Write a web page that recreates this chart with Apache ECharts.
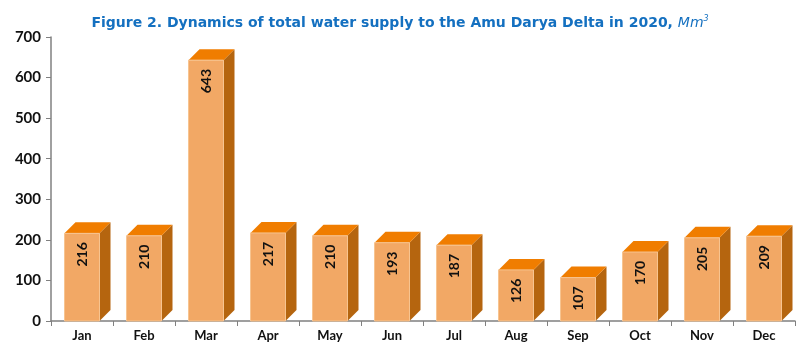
<!DOCTYPE html>
<html lang="en">
<head>
  <meta charset="UTF-8">
  <title>Amu Darya Delta water supply 2020</title>
  <script src="https://cdn.jsdelivr.net/npm/echarts@6/dist/echarts.min.js"></script>
  <style>
    html, body { margin: 0; padding: 0; background: #fff; }
    #chart { width: 800px; height: 351px; }
  </style>
</head>
<body>
  <div id="chart"></div>
  <script>
    const months = ['Jan', 'Feb', 'Mar', 'Apr', 'May', 'Jun', 'Jul', 'Aug', 'Sep', 'Oct', 'Nov', 'Dec']
    const supply = [216, 210, 643, 217, 210, 193, 187, 126, 107, 170, 205, 209]

    const FONT = 'Lato, "DejaVu Sans", sans-serif'
    const TITLE_FONT = '"DejaVu Sans", sans-serif'

    // 3D-looking box: front face, top and right side
    function renderBox (params, api) {
      const idx = api.value(0)
      const val = api.value(1)
      const top = api.coord([idx, val])
      const base = api.coord([idx, 0])
      const w = 35
      const d = 11
      const x0 = top[0] - w / 2
      const x1 = top[0] + w / 2
      const y0 = top[1]
      const y1 = base[1]
      return {
        type: 'group',
        children: [
          {
            type: 'polygon',
            shape: { points: [[x1, y0], [x1 + d, y0 - d], [x1 + d, y1 - d], [x1, y1]] },
            style: { fill: '#B5650F' }
          },
          {
            type: 'polygon',
            shape: { points: [[x0, y0], [x0 + d, y0 - d], [x1 + d, y0 - d], [x1, y0]] },
            style: { fill: '#F07D00' }
          },
          {
            type: 'rect',
            shape: { x: x0, y: y0, width: w, height: y1 - y0 },
            style: { fill: '#F2A865', stroke: '#F7C490', lineWidth: 1 }
          },
          {
            type: 'text',
            x: top[0],
            y: y0 + 21,
            rotation: Math.PI / 2,
            style: {
              text: String(val),
              fill: '#111',
              font: 'bold 14px ' + FONT,
              align: 'center',
              verticalAlign: 'middle'
            }
          }
        ]
      }
    }

    const chart = echarts.init(document.getElementById('chart'))
    chart.setOption({
      backgroundColor: '#fff',
      animation: false,
      title: {
        left: 'center',
        top: 10,
        text: '{a|Figure 2. Dynamics of total water supply to the Amu Darya Delta in 2020, }{b|Mm}{c|3}',
        textStyle: {
          rich: {
            a: { color: '#1470C0', fontSize: 14, fontWeight: 'bold', fontFamily: TITLE_FONT },
            b: { color: '#1470C0', fontSize: 14, fontWeight: 'normal', fontStyle: 'italic', fontFamily: TITLE_FONT },
            c: { color: '#1470C0', fontSize: 8, fontWeight: 'normal', fontStyle: 'italic', fontFamily: TITLE_FONT, verticalAlign: 'top', padding: [0, 0, 8, 0] }
          }
        }
      },
      grid: { left: 51, right: 5, top: 37, bottom: 30 },
      xAxis: {
        type: 'category',
        data: months,
        axisLine: { lineStyle: { color: '#808080', width: 1.5 } },
        axisTick: { show: true, length: 5, lineStyle: { color: '#808080' } },
        axisLabel: { color: '#111', fontWeight: 'bold', fontSize: 13, fontFamily: FONT, margin: 8 }
      },
      yAxis: {
        type: 'value',
        min: 0,
        max: 700,
        interval: 100,
        splitLine: { show: false },
        axisLine: { show: true, lineStyle: { color: '#808080', width: 1.5 } },
        axisTick: { show: true, length: 5, lineStyle: { color: '#808080' } },
        axisLabel: { color: '#111', fontWeight: 'bold', fontSize: 15, fontFamily: FONT, margin: 10 }
      },
      series: [
        {
          type: 'custom',
          renderItem: renderBox,
          encode: { x: 0, y: 1 },
          data: supply.map((v, i) => [i, v])
        }
      ]
    })
  </script>
</body>
</html>
